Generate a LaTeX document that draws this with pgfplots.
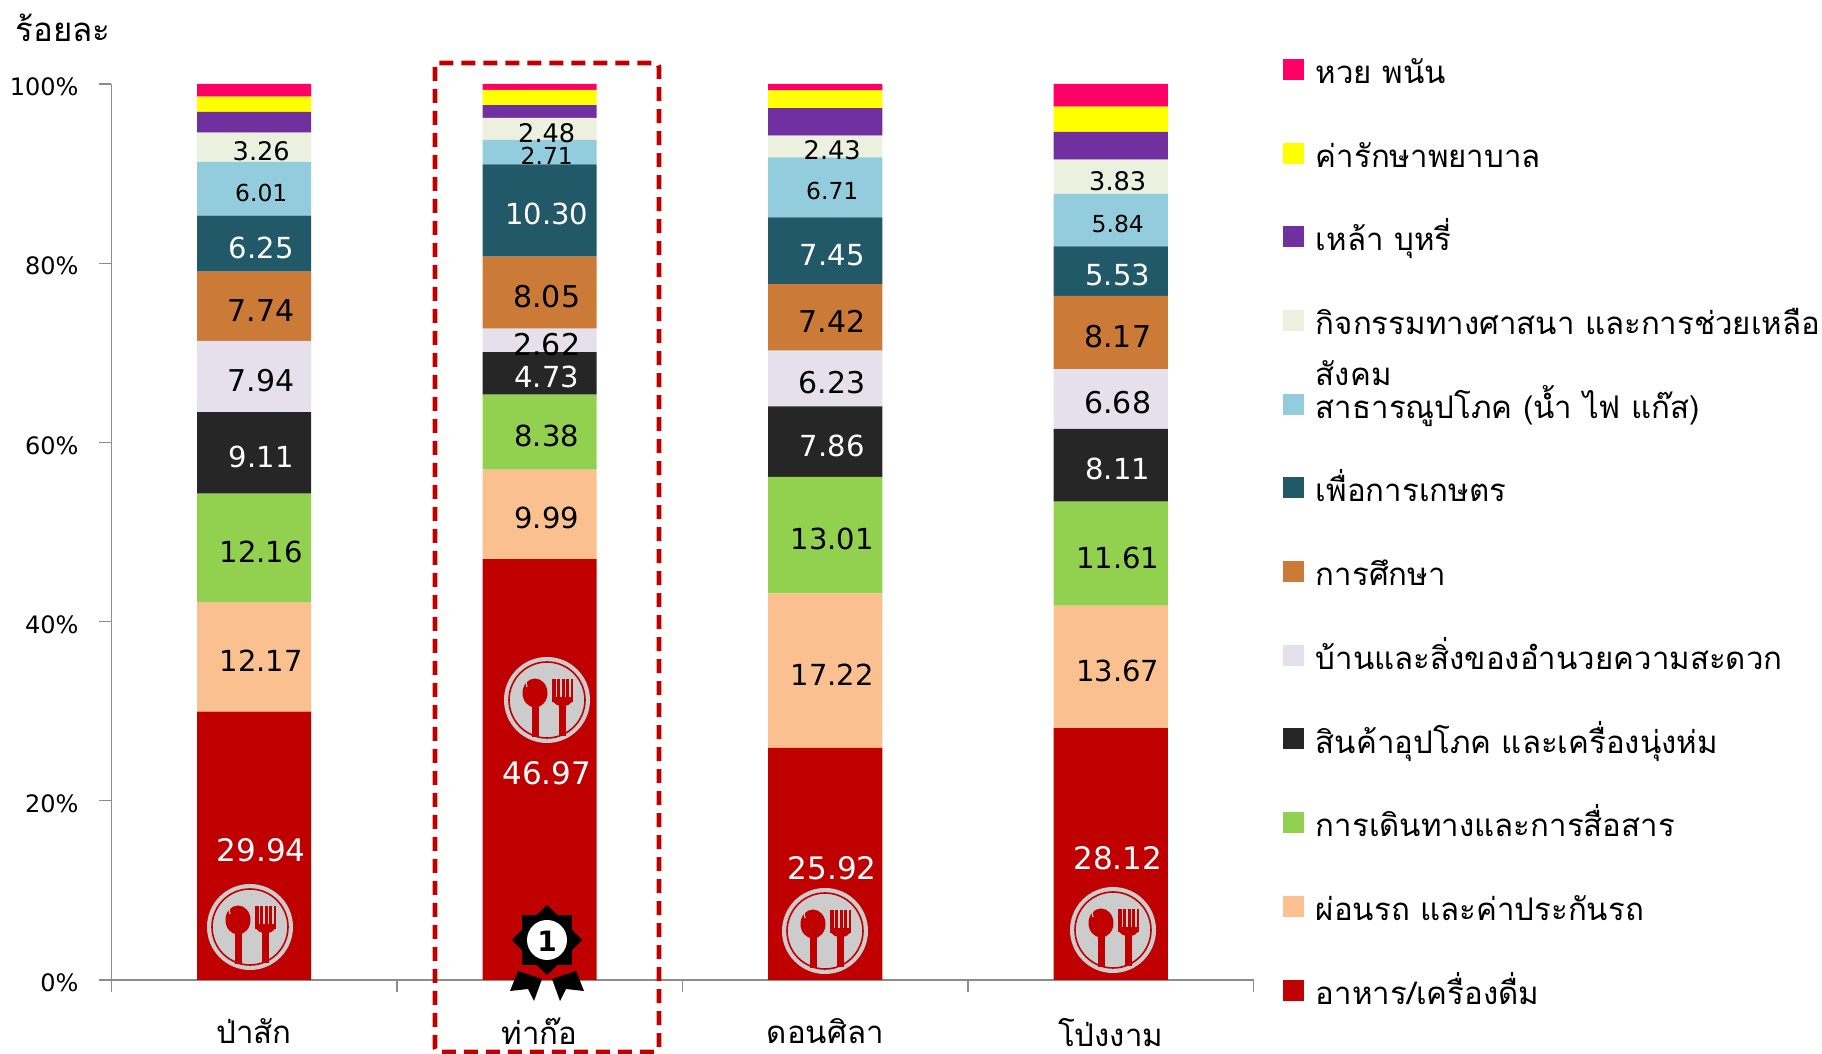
\documentclass[border=0pt]{standalone}
\usepackage{fontspec}
\setmainfont[Script=Thai]{Loma}
\newfontfamily\numfont{DejaVu Sans}
\usepackage{pgfplots}
\usepackage{pgfplotstable}
\pgfplotsset{compat=1.18}
\definecolor{cfood}{HTML}{C00000}
\definecolor{clease}{HTML}{FAC090}
\definecolor{ctravel}{HTML}{92D050}
\definecolor{cgoods}{HTML}{262626}
\definecolor{chome}{HTML}{E6E0EC}
\definecolor{cedu}{HTML}{CC7A37}
\definecolor{cagri}{HTML}{215968}
\definecolor{cutil}{HTML}{93CDDD}
\definecolor{crelig}{HTML}{EBF1DE}
\definecolor{calco}{HTML}{7030A0}
\definecolor{cmed}{HTML}{FFFF00}
\definecolor{clot}{HTML}{FF0066}
\definecolor{caxis}{HTML}{8C8C8C}
\pgfplotstableread{
x food lease travel goods home edu agri util relig alco med lot
0 29.94 12.17 12.16 9.11 7.94 7.74 6.25 6.01 3.26 2.30 1.70 1.42
1 46.97 9.99 8.38 4.73 2.62 8.05 10.30 2.71 2.48 1.40 1.72 0.65
2 25.92 17.22 13.01 7.86 6.23 7.42 7.45 6.71 2.43 3.05 2.00 0.70
3 28.12 13.67 11.61 8.11 6.68 8.17 5.53 5.84 3.83 3.10 2.80 2.54
}\data
\pgfplotsset{
  lab/.style n args={2}{
    visualization depends on=rawy \as \rawy,
    nodes near coords={\pgfmathprintnumber[fixed,fixed zerofill,precision=2,assume math mode=true]{\rawy}},
    every node near coord/.append style={anchor=center,text=#1,inner sep=0pt,
      font=\numfont\fontsize{#2}{#2}\selectfont,xshift=3.5pt,yshift=-2pt},
  },
}
\newcommand{\foodicon}[2]{%
  \begin{scope}[shift={(#1,1054-#2)},yscale=-1]
    \fill[black!20] (0,0) circle (43);
    \draw[cfood,line width=0.8pt] (0,0) circle (38);
    \fill[cfood] (-12,-7) ellipse (12.5 and 14.5);
    \fill[cfood] (-15.5,3) rectangle (-8.5,37);
    \draw[black!20,line width=0.6pt] (-20,-13) arc (160:215:12);
    \fill[cfood] (5,-21) rectangle (26,2);
    \foreach \xx in {9.5,14,18.5,23}{\fill[black!20] (\xx-0.6,-21) rectangle (\xx+0.6,-3);}
    \fill[cfood] (5,-2) .. controls (6,5) and (12,6) .. (15.5,6) .. controls (20,6) and (25,5) .. (26,-2) -- cycle;
    \fill[cfood] (12,4) rectangle (19,36);
  \end{scope}}
\begin{document}
\begin{tikzpicture}[x=0.5pt,y=0.5pt]
\path[use as bounding box] (0,0) rectangle (1822,1054);
\begin{axis}[
  at={(55.75pt,37pt)},anchor=south west,
  scale only axis,width=571pt,height=448pt,
  ybar stacked,bar width=57pt,
  xmin=-0.5,xmax=3.5,ymin=0,ymax=100,
  clip=false,
  axis x line*=bottom,axis y line*=left,
  axis line style={caxis,line width=0.6pt,-},
  tick style={caxis,line width=0.6pt},
  tick align=outside,
  ytick={0,20,...,100},
  xtick={0,1,2,3},
  xticklabels={ป่าสัก,ท่าก๊อ,ดอนศิลา,โป่งงาม},
  minor xtick={-0.5,0.5,1.5,2.5,3.5},
  major x tick style={draw=none},
  major tick length=6pt,minor tick length=6pt,
  yticklabel={\pgfmathprintnumber[assume math mode=true]{\tick}\%},
  yticklabel style={font=\numfont\fontsize{12}{12}\selectfont,yshift=-1.5pt,xshift=-7pt},
  xticklabel style={font=\fontsize{15.6}{15.6}\selectfont,yshift=-9.5pt},
  reverse legend,
  legend cell align=left,
  legend image code/.code={\fill[#1] (0,1.8pt) rectangle (10.5pt,12.3pt);},
  legend style={at={(1.0205,1.0345)},anchor=north west,draw=none,fill=none,
    font=\fontsize{15.6}{15.6}\selectfont,row sep=23.85pt,
    nodes={text height=13pt,text depth=5pt,inner sep=0pt,anchor=base west},
    /tikz/column 1/.style={column sep=5.8pt}},
]
\addplot[fill=cfood,draw=none,lab={white}{15.5}] table[x=x,y=food]{\data};
\addlegendentry{อาหาร/เครื่องดื่ม}
\addplot[fill=clease,draw=none,lab={black}{14.5}] table[x=x,y=lease]{\data};
\addlegendentry{ผ่อนรถ และค่าประกันรถ}
\addplot[fill=ctravel,draw=none,lab={black}{14.5}] table[x=x,y=travel]{\data};
\addlegendentry{การเดินทางและการสื่อสาร}
\addplot[fill=cgoods,draw=none,lab={white}{14.5}] table[x=x,y=goods]{\data};
\addlegendentry{สินค้าอุปโภค และเครื่องนุ่งห่ม}
\addplot[fill=chome,draw=none,lab={black}{15}] table[x=x,y=home]{\data};
\addlegendentry{บ้านและสิ่งของอำนวยความสะดวก}
\addplot[fill=cedu,draw=none,lab={black}{15}] table[x=x,y=edu]{\data};
\addlegendentry{การศึกษา}
\addplot[fill=cagri,draw=none,lab={white}{14.5}] table[x=x,y=agri]{\data};
\addlegendentry{เพื่อการเกษตร}
\addplot[fill=cutil,draw=none,lab={black}{11.7}] table[x=x,y=util]{\data};
\addlegendentry{สาธารณูปโภค (น้ำ ไฟ แก๊ส)}
\addplot[fill=crelig,draw=none,lab={black}{12.8}] table[x=x,y=relig]{\data};
\addlegendentry{\smash{\rlap{\raisebox{-25.5pt}{สังคม}}}กิจกรรมทางศาสนา และการช่วยเหลือ}
\addplot[fill=calco,draw=none] table[x=x,y=alco]{\data};
\addlegendentry{เหล้า บุหรี่}
\addplot[fill=cmed,draw=none] table[x=x,y=med]{\data};
\addlegendentry{ค่ารักษาพยาบาล}
\addplot[fill=clot,draw=none] table[x=x,y=lot]{\data};
\addlegendentry{หวย พนัน}
\end{axis}
% y title
\node[font=\fontsize{16.5}{16.5}\selectfont] at (63,1026) {ร้อยละ};
% highlight frame
\draw[cfood,line width=2.4pt,dash pattern=on 7pt off 4pt,rounded corners=2pt]
  (435,1054-63) rectangle (659,1054-1052);
% icons
\foodicon{250}{927}
\foodicon{547}{700}
\foodicon{825}{931}
\foodicon{1113}{930}
% medal
\begin{scope}[shift={(547,1054-940)},yscale=-1]
  \fill[black] (-29,31) -- (-5,39) -- (-13,61) -- (-19,49) -- (-37,51) -- cycle;
  \fill[black] (29,31) -- (5,39) -- (13,61) -- (19,49) -- (37,51) -- cycle;
  \fill[black] (0:35) -- (22.5:27) -- (45:35) -- (67.5:27) -- (90:35) -- (112.5:27) -- (135:35) -- (157.5:27)
    -- (180:35) -- (202.5:27) -- (225:35) -- (247.5:27) -- (270:35) -- (292.5:27) -- (315:35) -- (337.5:27) -- cycle;
  \fill[white] (0,0) circle (20);
\end{scope}
\node[font=\numfont\fontsize{14}{14}\bfseries\selectfont,text=black] at (547,1054-941) {1};
\end{tikzpicture}
\end{document}
